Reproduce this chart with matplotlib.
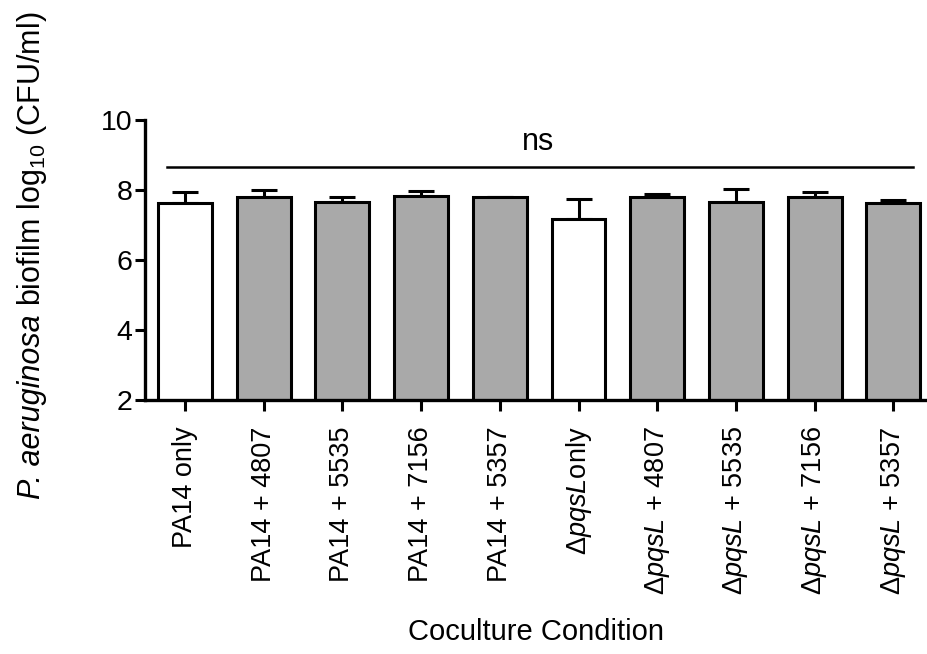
import numpy as np
import matplotlib
matplotlib.use("Agg")
import matplotlib.pyplot as plt

# --- data ---
conditions = ["PA14 only", "PA14 + 4807", "PA14 + 5535", "PA14 + 7156", "PA14 + 5357",
              "Δ$\\mathit{pqsL}$only", "Δ$\\mathit{pqsL}$ + 4807", "Δ$\\mathit{pqsL}$ + 5535",
              "Δ$\\mathit{pqsL}$ + 7156", "Δ$\\mathit{pqsL}$ + 5357"]
means  = [7.62, 7.79, 7.67, 7.83, 7.79, 7.16, 7.81, 7.67, 7.81, 7.64]
errors = [0.33, 0.21, 0.12, 0.15, 0.02, 0.59, 0.07, 0.35, 0.14, 0.08]
is_mono = [True, False, False, False, False, True, False, False, False, False]
ns_y = 8.67
# -----------------------------------

plt.rcParams['font.family'] = ['Liberation Sans', 'DejaVu Sans']
plt.rcParams['mathtext.fontset'] = 'custom'
plt.rcParams['mathtext.rm'] = 'Liberation Sans'
plt.rcParams['mathtext.it'] = 'Liberation Sans:italic'

fig = plt.figure(figsize=(9.27, 6.54), dpi=100)
ax = fig.add_axes([145 / 927, 1 - 400 / 654, (926 - 145) / 927, 280 / 654])

x = np.arange(len(conditions))
colors = ["white" if m else "#a9a9a9" for m in is_mono]
ax.bar(x, means, width=0.685, bottom=0, color=colors, edgecolor="black",
       linewidth=2.2, zorder=2)
ax.errorbar(x, means, yerr=[np.zeros(len(errors)), errors], fmt="none",
            ecolor="black", elinewidth=2.2, capsize=9.5, capthick=2.2, zorder=1)

# significance bar
ax.plot([-0.23, 9.25], [ns_y, ns_y], color="black", linewidth=1.8, clip_on=False)
ax.text(4.49, 9.37, "ns", ha="center", va="center", fontsize=22)

ax.set_ylim(2, 10)
ax.set_xlim(-0.508, 9.415)
ax.set_yticks([2, 4, 6, 8, 10])
ax.set_xticks(x)
ax.set_xticklabels(conditions, rotation=90, fontsize=19.5)
ax.tick_params(axis="y", labelsize=20.5, width=2.2, length=7, pad=2)
ax.tick_params(axis="x", width=2.2, length=8, pad=11)

for side in ["top", "right"]:
    ax.spines[side].set_visible(False)
for side in ["left", "bottom"]:
    ax.spines[side].set_linewidth(2.4)

ax.set_xlabel("Coculture Condition", fontsize=21, labelpad=16)

# y label in two pieces: italic species name + plain rest
y0 = 1 - 499 / 654
bx = 40 / 927
t1 = fig.text(bx, y0, "P. aeruginosa ", rotation=90, rotation_mode="anchor",
              ha="left", va="baseline", fontsize=22, fontstyle="italic")
fig.canvas.draw()
h = t1.get_window_extent().height / fig.bbox.height
fig.text(bx, y0 + h, "biofilm log$_{10}$ (CFU/ml)", rotation=90,
         rotation_mode="anchor", ha="left", va="baseline", fontsize=22)

plt.savefig("out.png", dpi=100)
